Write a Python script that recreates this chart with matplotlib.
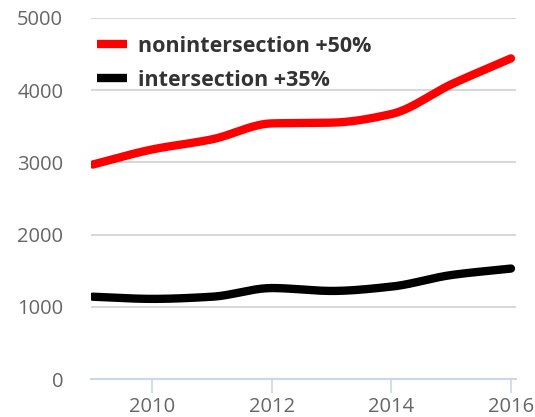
import numpy as np
import matplotlib
matplotlib.use("Agg")
import matplotlib.pyplot as plt

years = [2009, 2010, 2011, 2012, 2013, 2014, 2015, 2016]
nonintersection = [2970, 3180, 3320, 3540, 3550, 3670, 4080, 4440]
intersection = [1140, 1110, 1140, 1260, 1220, 1280, 1440, 1530]
labels = ["nonintersection +50%", "intersection +35%"]
colors = ["#ff0000", "#000000"]


def smooth(x, y, n=300):
  # monotone cubic (Fritsch-Carlson), only for drawing the spline
  x = np.asarray(x, float)
  y = np.asarray(y, float)
  h = np.diff(x)
  d = np.diff(y) / h
  m = np.zeros_like(y)
  m[0], m[-1] = d[0], d[-1]
  for i in range(1, len(x) - 1):
    if d[i-1] * d[i] <= 0:
      m[i] = 0
    else:
      m[i] = 2 / (1 / d[i-1] + 1 / d[i])
  xs = np.linspace(x[0], x[-1], n)
  idx = np.clip(np.searchsorted(x, xs) - 1, 0, len(x) - 2)
  t = (xs - x[idx]) / h[idx]
  h00 = 2*t**3 - 3*t**2 + 1
  h10 = t**3 - 2*t**2 + t
  h01 = -2*t**3 + 3*t**2
  h11 = t**3 - t**2
  ys = h00*y[idx] + h10*h[idx]*m[idx] + h01*y[idx+1] + h11*h[idx]*m[idx+1]
  return xs, ys


plt.rcParams['font.family'] = ['Open Sans', 'DejaVu Sans']

fig = plt.figure(figsize=(5.35, 4.17), dpi=100)
ax = fig.add_axes([0.170, 0.091, 0.794, 0.866])

for series, lab, c in zip([nonintersection, intersection], labels, colors):
  xs, ys = smooth(years, series)
  ax.plot(xs, ys, color=c, lw=6, solid_capstyle="round", label=lab, zorder=3)

ax.set_xlim(2008.97, 2016.08)
ax.set_ylim(0, 5000)
ax.set_yticks(range(0, 5001, 1000))
ax.set_xticks([2010, 2012, 2014, 2016])
ax.grid(axis="y", color="#d8d8d8", lw=1.5)
ax.set_axisbelow(True)
for s in ["left", "top", "right"]:
  ax.spines[s].set_visible(False)
ax.spines["bottom"].set_color("#ccd6eb")
ax.spines["bottom"].set_linewidth(1.5)
ax.tick_params(axis="y", length=0, pad=20, labelsize=14.5, labelcolor="#666666")
ax.tick_params(axis="x", length=10, width=1.2, color="#ccd6eb", pad=3,
               labelsize=14.5, labelcolor="#666666")

leg = ax.legend(loc="upper left", bbox_to_anchor=(0.014, 0.951), frameon=False,
                borderpad=0, borderaxespad=0,
                handlelength=1.4, handletextpad=0.5, labelspacing=0.6,
                prop={"weight": "bold", "size": 15.5})
for t in leg.get_texts():
  t.set_color("#333333")
for h in leg.get_lines():
  h.set_solid_capstyle("butt")

fig.savefig("out.png", dpi=100)
